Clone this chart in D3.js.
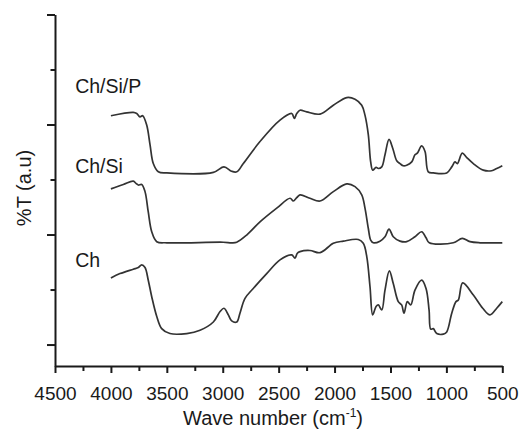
<!DOCTYPE html>
<html>
<head>
  <meta charset="utf-8">
  <title>FTIR spectra</title>
  <script src="https://d3js.org/d3.v7.min.js"></script>
  <style>
    body { margin: 0; background: #fff; }
    text { font-family: "Liberation Sans", Arial, sans-serif; fill: #1a1a1a; }
    .spec { fill: none; stroke: #333; stroke-width: 1.7px; stroke-linejoin: round; }
    .axis path, .axis line { stroke: #1a1a1a; stroke-width: 2px; }
  </style>
</head>
<body>
  <svg width="520" height="430"></svg>
  <script>
    // spectra: [wave number (cm-1), %T in arbitrary units]
    const chSiP = [
      [4000, 4.16], [3800, 4.22], [3769, 4.20], [3740, 4.14], [3716, 4.16], [3680, 3.99],
      [3650, 3.63], [3621, 3.29], [3576, 3.14], [3500, 3.12], [3084, 3.13], [2989, 3.23],
      [2920, 3.15], [2875, 3.14], [2816, 3.29], [2667, 3.69], [2488, 4.08], [2383, 4.20],
      [2360, 4.11], [2338, 4.20], [2309, 4.26], [2249, 4.23], [2130, 4.19], [2011, 4.35],
      [1891, 4.49], [1817, 4.46], [1757, 4.35], [1728, 4.17], [1698, 3.81], [1677, 3.32],
      [1659, 3.17], [1629, 3.22], [1609, 3.20], [1578, 3.23], [1549, 3.45], [1513, 3.73],
      [1480, 3.57], [1444, 3.34], [1415, 3.29], [1385, 3.25], [1355, 3.26], [1310, 3.32],
      [1281, 3.45], [1260, 3.48], [1221, 3.61], [1191, 3.51], [1162, 3.14], [1117, 3.12],
      [997, 3.12], [952, 3.23], [923, 3.32], [902, 3.29], [858, 3.48], [818, 3.40],
      [759, 3.29], [670, 3.17], [595, 3.16], [550, 3.20], [500, 3.25]
    ];
    const chSi = [
      [4000, 2.83], [3889, 2.91], [3800, 2.97], [3776, 2.93], [3755, 2.90], [3725, 2.91],
      [3695, 2.78], [3666, 2.41], [3635, 2.05], [3590, 1.87], [3500, 1.85], [2995, 1.86],
      [2920, 1.85], [2875, 1.86], [2786, 1.99], [2667, 2.23], [2517, 2.48], [2398, 2.66],
      [2369, 2.61], [2338, 2.67], [2309, 2.72], [2220, 2.66], [2130, 2.61], [2011, 2.78],
      [1891, 2.92], [1817, 2.87], [1757, 2.72], [1728, 2.48], [1698, 2.11], [1677, 1.90],
      [1653, 1.85], [1594, 1.88], [1549, 1.96], [1513, 2.10], [1475, 1.96], [1415, 1.88],
      [1355, 1.87], [1281, 1.96], [1221, 2.05], [1182, 1.94], [1153, 1.85], [938, 1.85],
      [858, 1.93], [789, 1.87], [699, 1.85], [500, 1.85]
    ];
    const ch = [
      [4000, 1.21], [3919, 1.29], [3800, 1.37], [3755, 1.40], [3725, 1.45], [3695, 1.40],
      [3666, 1.17], [3635, 0.87], [3590, 0.51], [3546, 0.29], [3472, 0.20], [3322, 0.20],
      [3203, 0.26], [3084, 0.41], [3024, 0.60], [2989, 0.66], [2950, 0.54], [2920, 0.43],
      [2875, 0.41], [2846, 0.57], [2801, 0.84], [2727, 1.02], [2607, 1.29], [2488, 1.54],
      [2383, 1.63], [2354, 1.57], [2333, 1.66], [2309, 1.69], [2220, 1.71], [2130, 1.67],
      [2011, 1.84], [1922, 1.88], [1788, 1.91], [1743, 1.84], [1712, 1.60], [1683, 1.05],
      [1659, 0.54], [1629, 0.69], [1609, 0.72], [1578, 0.63], [1549, 0.99], [1510, 1.34],
      [1475, 1.11], [1430, 0.78], [1400, 0.72], [1379, 0.57], [1349, 0.78], [1319, 0.72],
      [1281, 0.99], [1221, 1.17], [1182, 1.02], [1155, 0.63], [1140, 0.28], [1117, 0.29],
      [1086, 0.20], [1027, 0.19], [997, 0.23], [952, 0.57], [914, 0.78], [893, 0.81],
      [854, 1.12], [759, 0.90], [675, 0.66], [610, 0.54], [550, 0.66], [500, 0.78]
    ];
    const seriesNames = ["Ch/Si/P", "Ch/Si", "Ch"];
    const xMajor = [4500, 4000, 3500, 3000, 2500, 2000, 1500, 1000, 500];
    const xMinor = [4250, 3750, 3250, 2750, 2250, 1750, 1250, 750];
    const yMajor = [0, 2, 4, 6];
    const yMinor = [1, 3, 5];

    const svg = d3.select("svg");

    const x = d3.scaleLinear().domain([4500, 500]).range([55, 502.3]);
    const y = d3.scaleLinear().domain([-0.39, 6]).range([366, 14.5]);

    // minor ticks first, then the axes with labels
    svg.append("g").attr("class", "axis")
      .attr("transform", "translate(0,366)")
      .call(d3.axisBottom(x).tickValues(xMinor).tickSize(5).tickFormat(""))
      .select(".domain").remove();
    const xAxis = svg.append("g").attr("class", "axis")
      .attr("transform", "translate(0,366)")
      .call(d3.axisBottom(x).tickValues(xMajor).tickSize(7).tickSizeOuter(0).tickPadding(14).tickFormat(d3.format("d")));
    xAxis.selectAll("text").attr("font-size", 19).style("font-family", "'Liberation Sans', Arial, sans-serif");

    svg.append("g").attr("class", "axis")
      .attr("transform", "translate(55,0)")
      .call(d3.axisLeft(y).tickValues(yMinor).tickSize(4.5).tickFormat(""))
      .select(".domain").remove();
    svg.append("g").attr("class", "axis")
      .attr("transform", "translate(55,0)")
      .call(d3.axisLeft(y).tickValues(yMajor).tickSize(8).tickSizeOuter(0).tickFormat(""));

    // spectra
    const line = d3.line()
      .x(d => x(d[0]))
      .y(d => y(d[1]))
      .curve(d3.curveCatmullRom.alpha(0.5));

    [chSiP, chSi, ch].forEach(s => {
      svg.append("path").attr("class", "spec").attr("d", line(s));
    });

    // curve labels, left of where each trace starts
    const labelPos = [[4320, 4.57], [4320, 3.12], [4320, 1.41]];
    svg.selectAll("text.lab")
      .data(seriesNames)
      .enter()
      .append("text")
      .attr("class", "lab")
      .attr("x", (d, i) => x(labelPos[i][0]))
      .attr("y", (d, i) => y(labelPos[i][1]))
      .attr("font-size", 19.5)
      .text(d => d);

    // axis titles
    const xt = svg.append("text")
      .attr("x", 273)
      .attr("y", 425)
      .attr("text-anchor", "middle")
      .attr("font-size", 20);
    xt.append("tspan").text("Wave number (cm");
    xt.append("tspan").attr("font-size", 12).attr("dy", -8).text("-1");
    xt.append("tspan").attr("dy", 8).text(")");

    svg.append("text")
      .attr("transform", "translate(31,188) rotate(-90)")
      .attr("text-anchor", "middle")
      .attr("font-size", 20)
      .text("%T (a.u)");
  </script>
</body>
</html>
